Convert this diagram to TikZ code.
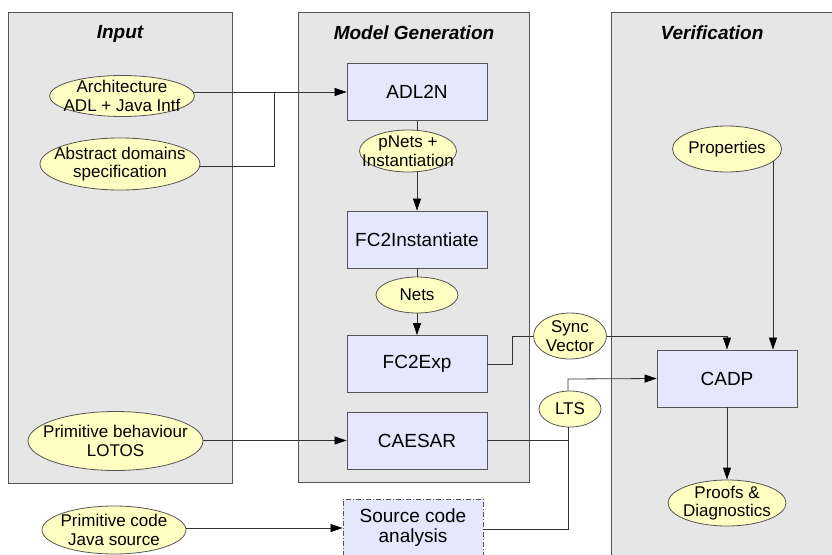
\documentclass[tikz,border=0pt]{standalone}
\usepackage{fontspec}
\setmainfont{Liberation Sans}
\usetikzlibrary{shapes.geometric,arrows.meta}
\definecolor{panelfill}{HTML}{E6E6E6}
\definecolor{boxfill}{HTML}{E6E6FC}
\definecolor{ellfill}{HTML}{FFFFC4}
\definecolor{edgecol}{HTML}{555555}
\definecolor{conncol}{HTML}{333333}
\begin{document}
\begin{tikzpicture}[x=1pt,y=-1pt,
  panel/.style={draw=edgecol, fill=panelfill, line width=0.9pt},
  proc/.style={draw=edgecol, fill=boxfill, line width=0.9pt, minimum width=140pt, minimum height=57pt, inner sep=0pt, font=\fontsize{19}{20}\selectfont, align=center},
  data/.style={ellipse, draw=edgecol, fill=ellfill, line width=0.8pt, inner sep=0pt},
  dtext/.style={inner sep=0pt, font=\fontsize{17}{18.5}\selectfont, align=center},
  paneltitle/.style={font=\fontsize{19}{20}\selectfont\bfseries\itshape},
  conn/.style={draw=conncol, line width=0.8pt},
  arr/.style={conn, -{Triangle[length=12pt,width=8pt,color=black]}}
]
\useasboundingbox (0,0) rectangle (832,554);
\fill[white] (0,0) rectangle (832,554);
% panels
\draw[panel] (8,12) rectangle (232,483);
\draw[panel] (298,12) rectangle (529,482);
\draw[panel] (611,12) rectangle (845,570);
\node[paneltitle] (tin) at (120,34) {Input};
\node[paneltitle] (tmg) at (414,33) {Model Generation};
\node[paneltitle] (tver) at (712,33) {Verification};

% processes
\node[proc] (adl) at (417,92) {ADL2N};
\node[proc] (fc2i) at (417,239.5) {FC2Instantiate};
\node[proc] (fc2e) at (417,364) {FC2Exp};
\node[proc] (caesar) at (417,440.5) {CAESAR};
\node[proc, minimum height=58pt, dash pattern=on 5pt off 2pt on 1pt off 2pt] (src) at (413,528) {Source code\\analysis};
\node[proc] (cadp) at (727,378.5) {CADP};

% data
\node[data, minimum width=145pt, minimum height=41pt, label={[dtext]center:{Architecture\\ADL + Java Intf}}] (arch) at (122,96) {};
\node[data, minimum width=160pt, minimum height=52pt, label={[dtext]center:{Abstract domains\\specification}}] (abs) at (120,164) {};
\node[data, minimum width=175pt, minimum height=59pt, label={[dtext]center:{Primitive behaviour\\LOTOS}}] (prim) at (115.5,441) {};
\node[data, minimum width=144pt, minimum height=48pt, label={[dtext]center:{Primitive code\\Java source}}] (pcode) at (114,530) {};
\node[data, minimum width=97pt, minimum height=42pt, label={[dtext]center:{pNets +\\Instantiation}}] (pnets) at (408,151) {};
\node[data, minimum width=82pt, minimum height=36pt, label={[dtext]center:{Nets}}] (nets) at (417,295) {};
\node[data, minimum width=73pt, minimum height=46pt, label={[dtext]center:{Sync\\Vector}}] (sync) at (570,336) {};
\node[data, minimum width=62pt, minimum height=36pt, label={[dtext]center:{LTS}}] (lts) at (570,409) {};
\node[data, minimum width=109pt, minimum height=46pt, label={[dtext]center:{Properties}}] (props) at (727,149) {};
\node[data, minimum width=118pt, minimum height=46pt, label={[dtext]center:{Proofs \&\\Diagnostics}}] (proofs) at (727,503) {};

\coordinate (j1) at (274,92);
\coordinate (j2) at (512,336);
\coordinate (j3) at (568,379);
\coordinate (pst) at (773,161);
\coordinate (srcout) at (483,529);
\coordinate (archout) at (193,92);
\coordinate (absout) at (199,166);

% connectors
\draw[arr] (archout) -- (adl.west);
\draw[conn] (absout) -| (j1);
\draw[conn] (adl.south) -- (adl.south |- pnets.north);
\draw[arr] (fc2i.north |- pnets.south) -- (fc2i.north);
\draw[conn] (fc2i.south) -- (nets.north);
\draw[arr] (nets.south) -- (fc2e.north);
\draw[conn] (fc2e.east) -| (j2) -- (sync.west);
\draw[arr] (sync.east) -| (cadp.north);
\draw[arr] (pst) -- (pst |- cadp.north);
\draw[conn] (caesar.east) -| (lts.south -| j3);
\draw[conn] (srcout) -| (lts.south -| j3);
\draw[arr] (lts.north -| j3) -- (j3) -- (cadp.west);
\draw[arr] (prim.east |- caesar.west) -- (caesar.west);
\draw[arr] (pcode.east |- src.west) -- (src.west);
\draw[arr] (cadp.south) -- (proofs.north);
\end{tikzpicture}
\end{document}
